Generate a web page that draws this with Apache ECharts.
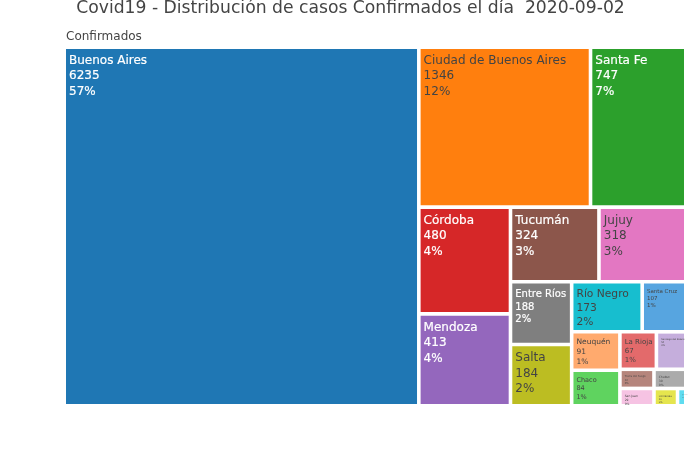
<!DOCTYPE html>
<html>
<head>
<meta charset="UTF-8">
<title>Covid19</title>
<script src="https://cdn.jsdelivr.net/npm/echarts@6/dist/echarts.min.js"></script>
<style>
	html, body { margin: 0; padding: 0; background: #fff; }
	#main { width: 700px; height: 450px; }
</style>
</head>
<body>
	<div id="main"></div>
	<script>
		var provincias = ['Buenos Aires','Ciudad de Buenos Aires','Santa Fe','Córdoba','Mendoza','Tucumán','Jujuy','Entre Ríos','Salta','Río Negro','Santa Cruz','Neuquén','Chaco','La Rioja','Santiago del Estero','Tierra del Fuego','Chubut','San Juan','Corrientes','Catamarca'];
		var casos = [6235,1346,747,480,413,324,318,188,184,173,107,91,84,67,54,32,30,29,20,7];
		var porcentajes = ['57%','12%','7%','4%','4%','3%','3%','2%','2%','2%','1%','1%','1%','1%','0%','0%','0%','0%','0%','0%'];
		var colores = ['#1f77b4','#ff7f0e','#2ca02c','#d62728','#9467bd','#8c564b','#e377c2','#7f7f7f','#bcbd22','#17becf','#57a5e0','#ffaa6e','#5fd35f','#e36a6b','#c5aedc','#b5857c','#ababab','#f6c3e3','#e5e54e','#5fdcf0'];
		var colorTexto = ['#fff','#444','#fff','#fff','#fff','#fff','#444','#fff','#444','#444','#444','#444','#444','#444','#444','#444','#444','#444','#444','#444'];
		var tamanos = [12,12,12,12,12,12,12,10,12,10.7,5.5,7.5,6.5,7,2.4,2.6,3,3,2.5,1];
		// como se parten los rectangulos, igual que en el original
		var grupos = [0,[[1,2],[[3,4],[[5,6],[[7,8],[[9,10],[[11,12],[[13,14],[[15,17],[16,[18,19]]]]]]]]]]];

		function hoja(i){
			return {
				name: provincias[i],
				value: casos[i],
				itemStyle: { color: colores[i] },
				label: {
					color: colorTexto[i],
					fontSize: tamanos[i],
					lineHeight: tamanos[i] * 1.29,
					textBorderColor: colorTexto[i],
					textBorderWidth: colorTexto[i] == '#fff' ? 0.2 : 0,
					formatter: provincias[i] + '\n' + casos[i] + '\n' + porcentajes[i]
				}
			};
		}
		function armar(g){
			if (typeof g == 'number') return hoja(g);
			var hijos = [];
			for (var i = 0; i < g.length; i++) hijos.push(armar(g[i]));
			return { name: '', children: hijos };
		}

		var myChart = echarts.init(document.getElementById('main'));
		var option = {
			animation: false,
			textStyle: { fontFamily: 'DejaVu Sans' },
			title: [{
				text: 'Covid19 - Distribución de casos Confirmados el día  2020-09-02',
				left: 345.5, top: -5, textAlign: 'center',
				textStyle: { fontSize: 17.2, fontWeight: 'normal', color: '#444', fontFamily: 'DejaVu Sans' }
			}, {
				text: 'Confirmados',
				left: 61, top: 26,
				textStyle: { fontSize: 12, fontWeight: 'normal', color: '#444', fontFamily: 'DejaVu Sans' }
			}],
			series: [{
				type: 'treemap',
				left: 66, top: 49, width: 618, height: 355,
				roam: false,
				nodeClick: false,
				sort: false,
				squareRatio: 0.01,
				visibleMin: 0,
				breadcrumb: { show: false },
				label: { show: true, position: 'insideTopLeft', distance: 3, padding: [1, 0, 0, 0], overflow: 'none' },
				upperLabel: { show: false },
				itemStyle: { gapWidth: 3.6, borderColor: '#fff', borderWidth: 0 },
				data: armar(grupos).children
			}]
		};
		myChart.setOption(option);
	</script>
</body>
</html>
